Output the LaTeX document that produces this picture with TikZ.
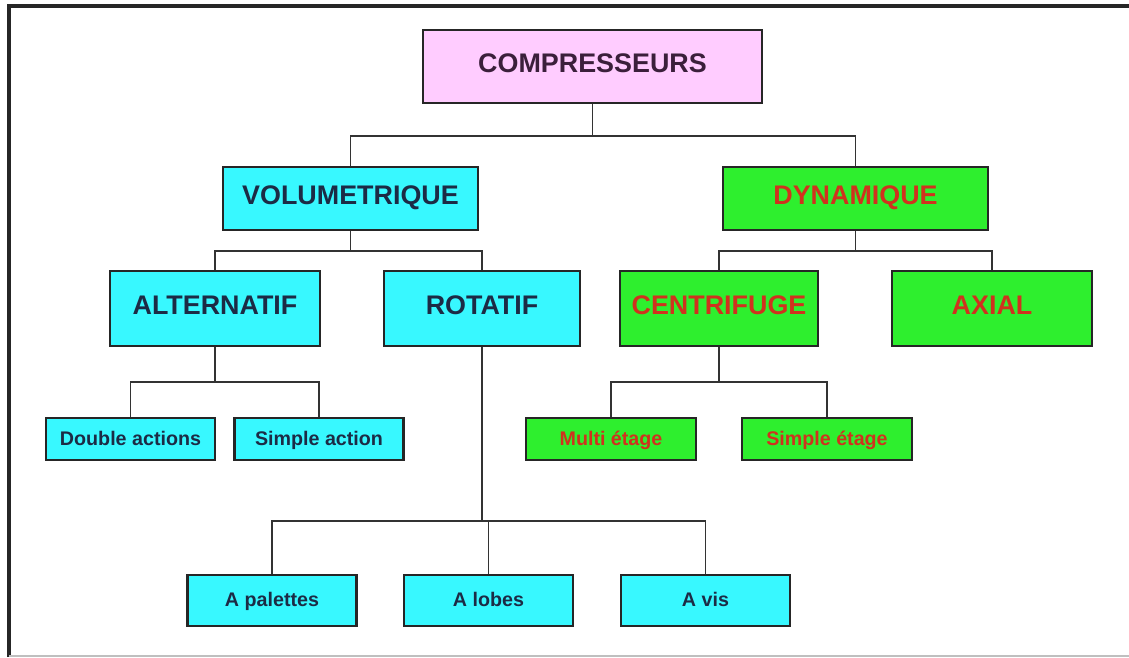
\documentclass[tikz,border=0pt]{standalone}
\usepackage{fontspec}
\setmainfont{Liberation Sans}
\usepackage{xcolor}
\usetikzlibrary{calc}

\definecolor{boxcyan}{HTML}{38F8FF}
\definecolor{boxgreen}{HTML}{2EEF2E}
\definecolor{boxpink}{HTML}{FFCCFF}
\definecolor{txtnavy}{HTML}{1C2B45}
\definecolor{txtred}{HTML}{D0321E}
\definecolor{txtplum}{HTML}{3B1F3B}

\begin{document}
\begin{tikzpicture}[
  x=0.02cm, y=-0.02cm,
  box/.style={rectangle, draw=black!85, line width=1.5pt, inner sep=1pt,
        text height=0.72em, text depth=0pt},
  bigfont/.style={font=\bfseries\fontsize{15.3}{18}\selectfont},
  smallfont/.style={font=\bfseries\fontsize{11.2}{13}\selectfont},
  topbox/.style={box, bigfont, fill=boxpink, text=txtplum,
        minimum width=6.78cm, minimum height=1.46cm},
  volbox/.style={box, bigfont, fill=boxcyan, text=txtnavy, minimum height=1.26cm},
  dynbox/.style={box, bigfont, fill=boxgreen, text=txtred, minimum height=1.26cm},
  vsubbox/.style={box, bigfont, fill=boxcyan, text=txtnavy, minimum height=1.5cm},
  dsubbox/.style={box, bigfont, fill=boxgreen, text=txtred, minimum height=1.5cm},
  vleaf/.style={box, smallfont, fill=boxcyan, text=txtnavy,
        minimum width=3.38cm, minimum height=0.84cm},
  dleaf/.style={box, smallfont, fill=boxgreen, text=txtred,
        minimum width=3.4cm, minimum height=0.84cm},
  vbottom/.style={vleaf, minimum height=1.02cm},
  link/.style={draw=black!80, line width=1.1pt},
  frame/.style={draw=black!85, line width=2.2pt},
]
\useasboundingbox (0,0) rectangle (1129,657);

% --- outer frame ---
\draw[frame] (9,657) -- (9,6) -- (1129,6);
\draw[black!25, line width=1pt] (9,656) -- (1129,656);

% --- level 0 ---
\node[topbox] (comp) at (592.5,66.5) {COMPRESSEURS};

% --- level 1 ---
\node[volbox, minimum width=5.1cm] (volu) at (350.5,198.5) {VOLUMETRIQUE};
\node[dynbox, minimum width=5.3cm] (dyna) at (855.5,198.5) {DYNAMIQUE};

% --- level 2 ---
\node[vsubbox, minimum width=4.2cm]  (alter)  at (215,308.5) {ALTERNATIF};
\node[vsubbox, minimum width=3.92cm] (rota)   at (482,308.5) {ROTATIF};
\node[dsubbox, minimum width=3.96cm] (centri) at (719,308.5) {CENTRIFUGE};
\node[dsubbox, minimum width=4cm]    (axial)  at (992,308.5) {AXIAL};

% --- level 3 ---
\node[vleaf] (dbl)    at (130.5,439) {Double actions};
\node[vleaf] (simp)   at (319,439)   {Simple action};
\node[dleaf] (multi)  at (611,439)   {Multi étage};
\node[dleaf] (simpet) at (827,439)   {Simple étage};

% --- rotary family ---
\node[vbottom] (pal) at (272,600.5)   {A palettes};
\node[vbottom] (lob) at (488.5,600.5) {A lobes};
\node[vbottom] (vis) at (705.5,600.5) {A vis};

% --- connectors ---
\foreach \kid in {volu,dyna}{
  \draw[link] (comp.south) -- ($(comp.south)+(0,32)$) -| (\kid.north);
}
\foreach \kid in {alter,rota}{
  \draw[link] (volu.south) -- ($(volu.south)+(0,20)$) -| (\kid.north);
}
\foreach \kid in {centri,axial}{
  \draw[link] (dyna.south) -- ($(dyna.south)+(0,20)$) -| (\kid.north);
}
\foreach \kid in {dbl,simp}{
  \draw[link] (alter.south) -- ($(alter.south)+(0,35)$) -| (\kid.north);
}
\foreach \kid in {multi,simpet}{
  \draw[link] (centri.south) -- ($(centri.south)+(0,35)$) -| (\kid.north);
}
\foreach \kid in {pal,lob,vis}{
  \draw[link] (rota.south) -- ($(rota.south)+(0,174)$) -| (\kid.north);
}

\end{tikzpicture}
\end{document}
